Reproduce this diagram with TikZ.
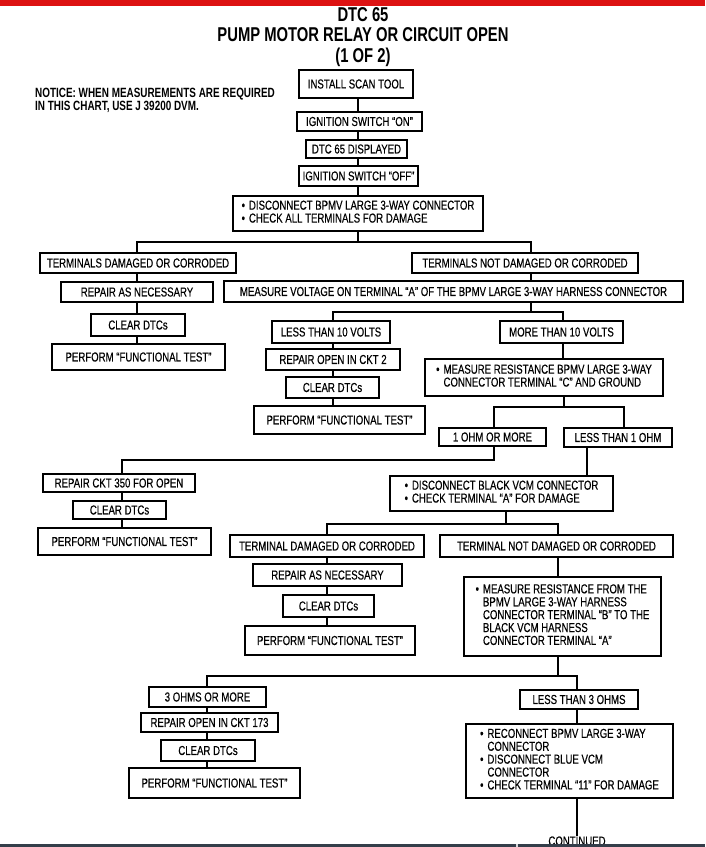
\documentclass[tikz,border=0pt]{standalone}
\usepackage{fontspec}
\setmainfont{Liberation Sans}[FakeStretch=0.74, FakeBold=0.3]
\newfontfamily\headfont{Liberation Sans}[FakeStretch=0.74]
\definecolor{topred}{RGB}{221,18,18}
\definecolor{botbar}{RGB}{52,62,74}
\tikzset{
  bx/.style={draw, line width=1.3pt, inner sep=0pt, align=center,
    font=\fontsize{13}{12.7}\selectfont},
  ln/.style={line width=1.3pt},
}
\newcommand\bx[6]{\node[bx, minimum width={#4pt-#2pt}, minimum height={#5pt-#3pt}] (#1) at ({(#2+#4)/2},{(#3+#5)/2}) {#6};}
\newcommand\blist[1]{\begin{tabular}{@{}l@{\hspace{4pt}}l@{}}#1\end{tabular}}
\begin{document}
\begin{tikzpicture}[x=1pt,y=-1pt]
\useasboundingbox (0,0) rectangle (705,847);
\fill[white] (0,0) rectangle (705,847);
\fill[topred] (0,0) rectangle (705,6);

\node[align=center, font=\headfont\fontsize{20}{20.5}\selectfont\bfseries] (title) at (363,37)
  {DTC 65\\PUMP MOTOR RELAY OR CIRCUIT OPEN\\(1 OF 2)};
\node[align=left, anchor=west, inner sep=0pt, font=\headfont\fontsize{13.4}{13}\selectfont\bfseries] (notice) at (35,100)
  {NOTICE: WHEN MEASUREMENTS ARE REQUIRED\\IN THIS CHART, USE J 39200 DVM.};

\bx{ist}{299}{70}{413}{98}{INSTALL SCAN TOOL}
\bx{ign}{297}{112}{422}{131}{IGNITION SWITCH ``ON''}
\bx{dtc}{306}{140}{407}{158}{DTC 65 DISPLAYED}
\bx{off}{299}{166}{418}{186}{IGNITION SWITCH ``OFF''}
\bx{dis}{233}{196}{483}{231}{\blist{\textbullet&DISCONNECT BPMV LARGE 3-WAY CONNECTOR\\\textbullet&CHECK ALL TERMINALS FOR DAMAGE}}
\bx{tdc}{40}{253}{236}{273}{TERMINALS DAMAGED OR CORRODED}
\bx{tnd}{412}{253}{638}{273}{TERMINALS NOT DAMAGED OR CORRODED}
\bx{ran}{61}{282}{213}{302}{REPAIR AS NECESSARY}
\bx{mv}{224}{281}{683}{302}{MEASURE VOLTAGE ON TERMINAL ``A'' OF THE BPMV LARGE 3-WAY HARNESS CONNECTOR}
\bx{cd1}{91}{314}{185}{336}{CLEAR DTCs}
\bx{pf1}{52}{344}{225}{370}{PERFORM ``FUNCTIONAL TEST''}
\bx{lt10}{272}{321}{390}{343}{LESS THAN 10 VOLTS}
\bx{mt10}{500}{321}{623}{343}{MORE THAN 10 VOLTS}
\bx{rc2}{266}{349}{400}{370}{REPAIR OPEN IN CKT 2}
\bx{mrb}{425}{359}{663}{396}{\blist{\textbullet&MEASURE RESISTANCE BPMV LARGE 3-WAY\\&CONNECTOR TERMINAL ``C'' AND GROUND}}
\bx{cd2}{286}{377}{379}{398}{CLEAR DTCs}
\bx{pf2}{254}{406}{425}{434}{PERFORM ``FUNCTIONAL TEST''}
\bx{o1m}{439}{428}{546}{446}{1 OHM OR MORE}
\bx{l1o}{564}{428}{672}{447}{LESS THAN 1 OHM}
\bx{r350}{43}{474}{195}{492}{REPAIR CKT 350 FOR OPEN}
\bx{dvc}{390}{476}{613}{511}{\blist{\textbullet&DISCONNECT BLACK VCM CONNECTOR\\\textbullet&CHECK TERMINAL ``A'' FOR DAMAGE}}
\bx{cd3}{73}{501}{166}{519}{CLEAR DTCs}
\bx{pf3}{38}{528}{211}{555}{PERFORM ``FUNCTIONAL TEST''}
\bx{td2}{230}{535}{424}{557}{TERMINAL DAMAGED OR CORRODED}
\bx{tn2}{440}{535}{673}{557}{TERMINAL NOT DAMAGED OR CORRODED}
\bx{ra2}{253}{564}{402}{586}{REPAIR AS NECESSARY}
\bx{mrf}{464}{577}{661}{656}{\blist{\textbullet&MEASURE RESISTANCE FROM THE\\&BPMV LARGE 3-WAY HARNESS\\&CONNECTOR TERMINAL ``B'' TO THE\\&BLACK VCM HARNESS\\&CONNECTOR TERMINAL ``A''}}
\bx{cd4}{283}{595}{374}{617}{CLEAR DTCs}
\bx{pf4}{245}{626}{415}{655}{PERFORM ``FUNCTIONAL TEST''}
\bx{o3m}{149}{687}{266}{707}{3 OHMS OR MORE}
\bx{l3o}{520}{690}{638}{709}{LESS THAN 3 OHMS}
\bx{r173}{141}{713}{278}{732}{REPAIR OPEN IN CKT 173}
\bx{rec}{466}{724}{673}{798}{\blist{\textbullet&RECONNECT BPMV LARGE 3-WAY\\&CONNECTOR\\\textbullet&DISCONNECT BLUE VCM\\&CONNECTOR\\\textbullet&CHECK TERMINAL ``11'' FOR DAMAGE}}
\bx{cd5}{161}{740}{255}{761}{CLEAR DTCs}
\bx{pf5}{129}{768}{300}{798}{PERFORM ``FUNCTIONAL TEST''}
\node[inner sep=0pt, font=\fontsize{13}{13}\selectfont] (cont) at (577,841) {CONTINUED};

% column x positions and branch points
\coordinate (xA) at (358,0);
\coordinate (xL) at (137,0);
\coordinate (xR) at (531,0);
\coordinate (x2L) at (333,0);
\coordinate (x2R) at (563,0);
\coordinate (x3L) at (494,0);
\coordinate (x3R) at (624,0);
\coordinate (x3S) at (587,0);
\coordinate (x5L) at (327,0);
\coordinate (x5R) at (558,0);
\coordinate (x6L) at (207,0);
\coordinate (x6R) at (577,0);
\coordinate (b1) at (358,242);
\coordinate (b2) at (531,312);
\coordinate (b3) at (564,407);
\coordinate (b4) at (122,460);
\coordinate (b5) at (506,524);
\coordinate (b6) at (558,676);

\draw[ln] (ist.south -| xA) -- (ign.north -| xA);
\draw[ln] (ign.south -| xA) -- (dtc.north -| xA);
\draw[ln] (dtc.south -| xA) -- (off.north -| xA);
\draw[ln] (off.south -| xA) -- (dis.north -| xA);
\draw[ln] (dis.south -| b1) -- (b1);
\draw[ln] (tdc.north -| xL) |- (b1) -| (tnd.north -| xR);
\draw[ln] (tdc.south -| xL) -- (ran.north -| xL);
\draw[ln] (ran.south -| xL) -- (cd1.north -| xL);
\draw[ln] (cd1.south -| xL) -- (pf1.north -| xL);
\draw[ln] (tnd.south -| xR) -- (mv.north -| xR);
\draw[ln] (mv.south -| b2) -- (b2);
\draw[ln] (lt10.north -| x2L) |- (b2) -| (mt10.north -| x2R);
\draw[ln] (lt10.south -| x2L) -- (rc2.north -| x2L);
\draw[ln] (rc2.south -| x2L) -- (cd2.north -| x2L);
\draw[ln] (cd2.south -| x2L) -- (pf2.north -| x2L);
\draw[ln] (mt10.south -| x2R) -- (mrb.north -| x2R);
\draw[ln] (mrb.south -| b3) -- (b3);
\draw[ln] (o1m.north -| x3L) |- (b3) -| (l1o.north -| x3R);
\draw[ln] (o1m.south -| x3L) |- (b4) -- (r350.north -| b4);
\draw[ln] (r350.south -| b4) -- (cd3.north -| b4);
\draw[ln] (cd3.south -| b4) -- (pf3.north -| b4);
\draw[ln] (l1o.south -| x3S) -- (dvc.north -| x3S);
\draw[ln] (dvc.south -| b5) -- (b5);
\draw[ln] (td2.north -| x5L) |- (b5) -| (tn2.north -| x5R);
\draw[ln] (td2.south -| x5L) -- (ra2.north -| x5L);
\draw[ln] (ra2.south -| x5L) -- (cd4.north -| x5L);
\draw[ln] (cd4.south -| x5L) -- (pf4.north -| x5L);
\draw[ln] (tn2.south -| x5R) -- (mrf.north -| x5R);
\draw[ln] (mrf.south -| b6) -- (b6);
\draw[ln] (o3m.north -| x6L) |- (b6) -| (l3o.north -| x6R);
\draw[ln] (o3m.south -| x6L) -- (r173.north -| x6L);
\draw[ln] (r173.south -| x6L) -- (cd5.north -| x6L);
\draw[ln] (cd5.south -| x6L) -- (pf5.north -| x6L);
\draw[ln] (l3o.south -| x6R) -- (rec.north -| x6R);
\draw[ln] (rec.south -| x6R) -- (cont.north);

\fill[botbar] (0,843.5) rectangle (705,847);
\fill[white!80!botbar] (516,843.5) rectangle (518,847);
\end{tikzpicture}
\end{document}
